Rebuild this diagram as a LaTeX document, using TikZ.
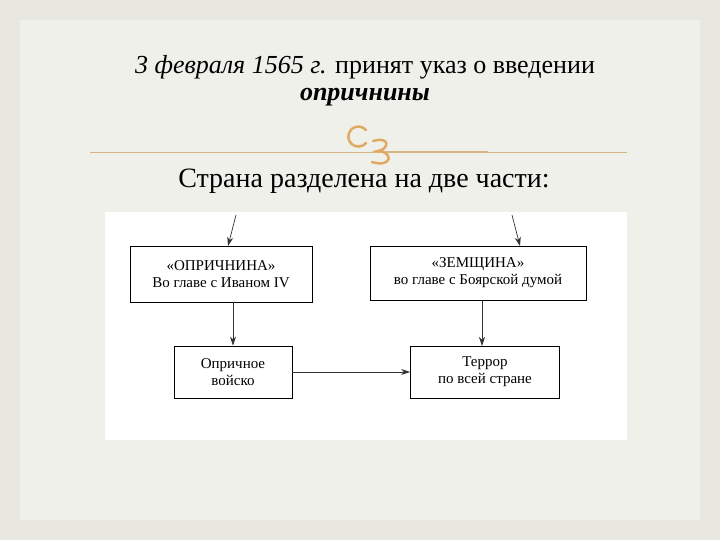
\documentclass[tikz,border=0pt]{standalone}
\usepackage{fontspec}
\setmainfont{Liberation Serif}
\usetikzlibrary{arrows.meta}
\begin{document}
\begin{tikzpicture}[x=1pt,y=-1pt,
  bx/.style={draw=black,line width=0.9pt,fill=white,align=center,inner sep=0pt,font=\fontsize{15}{17}\selectfont},
  ar/.style={-{Stealth[length=9pt,width=6pt]},line width=0.7pt,draw=black!80}]
\useasboundingbox (0,0) rectangle (720,540);
\fill[color={rgb,255:red,232;green,232;blue,224}] (0,0) rectangle (720,540);
\fill[color={rgb,255:red,240;green,240;blue,234}] (20,20) rectangle (700,520);
\node[font=\fontsize{26}{30}\selectfont] (t1) at (365,67) {\textit{3 февраля 1565 г.} принят указ о введении};
\node[font=\fontsize{26}{30}\selectfont] (t2) at (365,97) {\textbf{\textit{опричнины}}};
\draw[color={rgb,255:red,214;green,180;blue,130},line width=0.8pt] (90,152) -- (627,152);
\draw[color={rgb,255:red,214;green,180;blue,130},line width=1.4pt] (380,152) -- (488,152);
\draw[color={rgb,255:red,225;green,170;blue,100},line width=2.5pt,line cap=round]
  (366,143) arc (40:320:10) (373,141) .. controls (392,136) and (388,150) .. (378,151) .. controls (394,152) and (392,168) .. (372,162);
\node[font=\fontsize{28}{32}\selectfont] (t3) at (364,181) {Страна разделена на две части:};
\fill[white] (105,212) rectangle (627,440);
\node[bx,minimum width=182pt,minimum height=56pt] (a) at (221,274) {«ОПРИЧНИНА»\\Во главе с Иваном IV};
\node[bx,minimum width=216pt,minimum height=54pt] (b) at (478,273) {«ЗЕМЩИНА»\\во главе с Боярской думой};
\node[bx,minimum width=118pt,minimum height=52pt] (c) at (233,372) {Опричное\\войско};
\node[bx,minimum width=149pt,minimum height=52pt] (d) at (485,372) {Террор\\по всей стране};
\coordinate (s1) at (236,215);
\coordinate (s2) at (512,215);
\draw[ar] (s1) -- (228,246);
\draw[ar] (s2) -- (520,246);
\draw[ar] (a.south -| c.north) -- (c.north);
\draw[ar] (b.south -| 482,0) -- (482,346);
\draw[ar] (c.east) -- (d.west);
\end{tikzpicture}
\end{document}
